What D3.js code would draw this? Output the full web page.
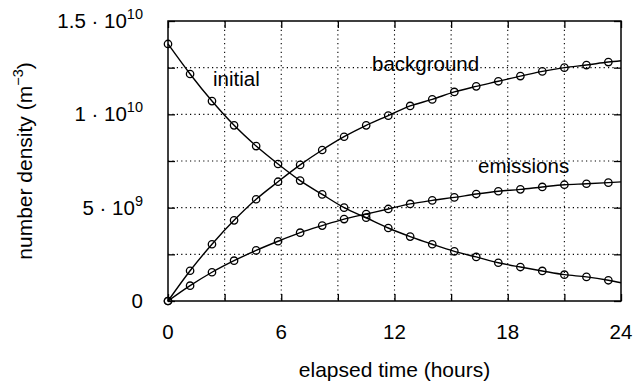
<!DOCTYPE html>
<html><head><meta charset="utf-8">
<script src="https://cdn.jsdelivr.net/npm/d3@7"></script>
<style>
body{margin:0;background:#fff;}
text{font-family:"Liberation Sans",Arial,sans-serif;fill:#000;}
</style></head>
<body><svg id="c" width="644" height="385"></svg>
<script>
// marker times (hours)
const hours = [0, 1.17, 2.33, 3.5, 4.67, 5.83, 7, 8.17, 9.33, 10.5, 11.67, 12.83, 14, 15.17, 16.33, 17.5, 18.67, 19.83, 21, 22.17, 23.33];
// values in units of 1e9 m^-3
const initial = [13.77, 12.16, 10.71, 9.41, 8.30, 7.34, 6.45, 5.71, 5.00, 4.46, 3.91, 3.45, 3.04, 2.66, 2.36, 2.05, 1.82, 1.61, 1.41, 1.29, 1.11];
const background = [0, 1.62, 3.04, 4.32, 5.45, 6.39, 7.29, 8.09, 8.80, 9.41, 9.93, 10.45, 10.80, 11.20, 11.50, 11.77, 12.05, 12.30, 12.50, 12.64, 12.80];
const emissions = [0, 0.82, 1.54, 2.16, 2.71, 3.20, 3.66, 4.04, 4.39, 4.66, 4.93, 5.20, 5.39, 5.55, 5.73, 5.88, 5.98, 6.11, 6.23, 6.28, 6.34];
// curve values at the end of the axis (24 h)
const endHour = 24;
const initialEnd = 0.98, backgroundEnd = 12.87, emissionsEnd = 6.38;
const seriesNames = ["initial", "background", "emissions"];
const xTicks = [0, 6, 12, 18, 24];
const xGrid = [3, 6, 9, 12, 15, 18, 21];
const yGrid = [2.5, 5, 7.5, 10, 12.5];
const yTicks = [0, 5, 10, 15];
const yTickMant = ["0", "5", "1", "1.5"];
const yTickExp = ["", "9", "10", "10"];

const L = 168, T = 21, W = 453, H = 280;
const svg = d3.select("#c");
const x = d3.scaleLinear().domain([0, 24]).range([L, L + W]);
const y = d3.scaleLinear().domain([0, 15]).range([T + H, T]);

// grid
const g = svg.append("g");
g.selectAll(".vg").data(xGrid).join("line")
  .attr("x1", d => x(d)).attr("x2", d => x(d)).attr("y1", T).attr("y2", T + H)
  .attr("stroke", "#000").attr("stroke-width", 1.1).attr("stroke-dasharray", "1.2,3.2");
g.selectAll(".hg").data(yGrid).join("line")
  .attr("x1", L).attr("x2", L + W).attr("y1", d => y(d)).attr("y2", d => y(d))
  .attr("stroke", "#000").attr("stroke-width", 1.1).attr("stroke-dasharray", "1.2,3.2");

// inner ticks via axes
const xTickAll = [0, 3, 6, 9, 12, 15, 18, 21, 24];
const yTickAll = [0, 2.5, 5, 7.5, 10, 12.5, 15];
function styleAxis(sel) {
  sel.select(".domain").remove();
  sel.selectAll("line").attr("stroke", "#000").attr("stroke-width", 1.3);
  sel.selectAll("text").remove();
}
svg.append("g").attr("transform", `translate(0,${T + H})`)
  .call(d3.axisBottom(x).tickValues(xTickAll).tickSize(-7)).call(styleAxis);
svg.append("g").attr("transform", `translate(0,${T})`)
  .call(d3.axisTop(x).tickValues(xTickAll).tickSize(-7)).call(styleAxis);
svg.append("g").attr("transform", `translate(${L},0)`)
  .call(d3.axisLeft(y).tickValues(yTickAll).tickSize(-7)).call(styleAxis);
svg.append("g").attr("transform", `translate(${L + W},0)`)
  .call(d3.axisRight(y).tickValues(yTickAll).tickSize(-7)).call(styleAxis);

// frame
svg.append("rect").attr("x", L).attr("y", T).attr("width", W).attr("height", H)
  .attr("fill", "none").attr("stroke", "#000").attr("stroke-width", 1.5);

// lines & markers
const all = [
  {vals: initial, end: initialEnd},
  {vals: background, end: backgroundEnd},
  {vals: emissions, end: emissionsEnd}
];
const line = d3.line().x(d => x(d[0])).y(d => y(d[1])).curve(d3.curveMonotoneX);
all.forEach(s => {
  const pts = hours.map((h, i) => [h, s.vals[i]]);
  pts.push([endHour, s.end]);
  svg.append("path").attr("d", line(pts)).attr("fill", "none")
    .attr("stroke", "#000").attr("stroke-width", 1.4);
  svg.append("g").selectAll("circle").data(hours.map((h, i) => [h, s.vals[i]])).join("circle")
    .attr("cx", d => x(d[0])).attr("cy", d => y(d[1])).attr("r", 3.7)
    .attr("fill", "none").attr("stroke", "#000").attr("stroke-width", 1.3);
});

// tick labels
svg.selectAll(".xt").data(xTicks).join("text")
  .attr("x", d => x(d)).attr("y", 339).attr("text-anchor", "middle")
  .attr("font-size", 20.5).text(d => d);
yTicks.forEach((v, i) => {
  const t = svg.append("text").attr("x", 143).attr("y", y(v) + 7)
    .attr("text-anchor", "end").attr("font-size", 20.5);
  if (yTickExp[i] === "") { t.text(yTickMant[i]); }
  else {
    t.append("tspan").text(yTickMant[i] + " \u00B7 10");
    t.append("tspan").attr("font-size", 14.5).attr("dy", -9).text(yTickExp[i]);
  }
});

// axis titles
svg.append("text").attr("x", x(12)).attr("y", 377).attr("text-anchor", "middle")
  .attr("font-size", 21).text("elapsed time (hours)");
const yt = svg.append("text").attr("transform", `translate(32,${T + H / 2}) rotate(-90)`)
  .attr("text-anchor", "middle").attr("font-size", 21);
yt.append("tspan").text("number density (m");
yt.append("tspan").attr("font-size", 14.5).attr("dy", -9).text("\u22123");
yt.append("tspan").attr("dy", 9).text(")");

// series labels
const labelPos = [[213, 86], [372, 71], [478, 173]];
seriesNames.forEach((n, i) => {
  svg.append("text").attr("x", labelPos[i][0]).attr("y", labelPos[i][1])
    .attr("font-size", 20.5).text(n);
});
</script></body></html>
